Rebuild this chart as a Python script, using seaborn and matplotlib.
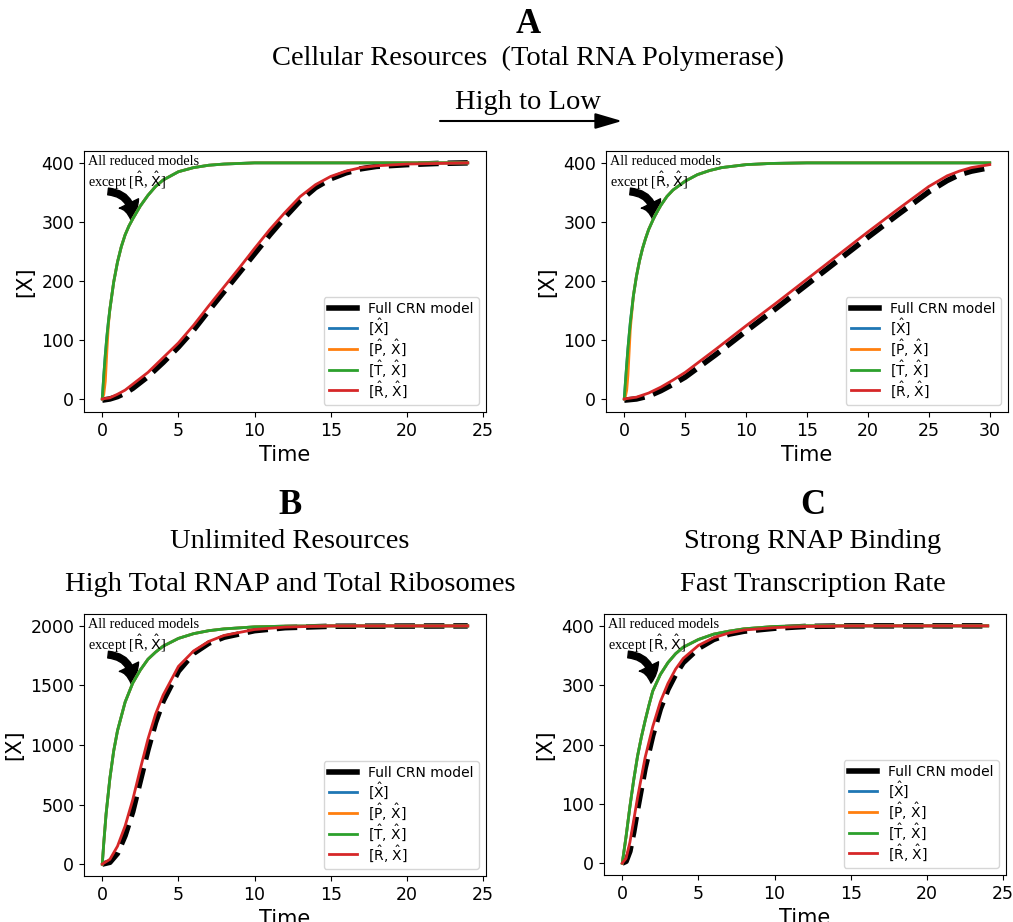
import numpy as np
import pandas as pd
import matplotlib
matplotlib.use("Agg")
import matplotlib.pyplot as plt
from matplotlib.patches import FancyArrowPatch
import seaborn as sns

# ---------------- data ----------------
# Panel A left (high resources)
a1_t_fast = [0, 0.1, 0.2, 0.3, 0.4, 0.5, 0.75, 1, 1.25, 1.5, 1.75, 2, 2.5, 3, 3.5, 4, 5, 6, 7, 8, 10, 12, 16, 20, 24]
a1_x_fast = [0, 40, 75, 105, 130, 152, 198, 232, 258, 278, 293, 305, 327, 345, 360, 371, 385, 392, 396, 398, 400, 400, 400, 400, 400]
a1_x_orange = [0, 8, 30, 80, 125, 152, 198, 232, 258, 278, 293, 305, 327, 345, 360, 371, 385, 392, 396, 398, 400, 400, 400, 400, 400]
a1_t_slow = [0, 0.5, 1, 1.5, 2, 3, 4, 5, 6, 7, 8, 9, 10, 11, 12, 13, 14, 15, 16, 17, 18, 20, 22, 24]
a1_x_red = [0, 2, 8, 15, 25, 45, 70, 95, 125, 158, 190, 222, 255, 287, 316, 343, 363, 377, 386, 392, 395, 398, 399, 400]
a1_x_full = [-2, 0, 4, 10, 18, 38, 62, 88, 117, 150, 182, 214, 246, 278, 308, 336, 358, 373, 383, 390, 394, 397, 399, 400]

# Panel A right (low resources)
a2_t_fast = [0, 0.1, 0.2, 0.3, 0.4, 0.5, 0.75, 1, 1.25, 1.5, 1.75, 2, 2.5, 3, 3.5, 4, 5, 6, 7, 8, 10, 12, 15, 20, 25, 30]
a2_x_fast = [0, 30, 58, 85, 108, 130, 175, 208, 234, 255, 272, 287, 310, 328, 343, 354, 369, 380, 387, 392, 397, 399, 400, 400, 400, 400]
a2_x_orange = [0, 5, 15, 40, 80, 120, 175, 208, 234, 255, 272, 287, 310, 328, 343, 354, 369, 380, 387, 392, 397, 399, 400, 400, 400, 400]
a2_t_slow = [0, 1, 2, 3, 4, 5, 7.5, 10, 12.5, 15, 17.5, 20, 22.5, 25, 26.5, 27.5, 28.5, 30]
a2_x_red = [0, 3, 10, 20, 32, 45, 84, 124, 163, 203, 243, 283, 322, 360, 378, 386, 392, 397]
a2_x_full = [-2, 0, 5, 14, 25, 37, 75, 115, 154, 194, 234, 274, 313, 351, 370, 380, 386, 392]

# Panel B (unlimited resources)
b_t_fast = [0, 0.1, 0.25, 0.5, 0.75, 1, 1.5, 2, 2.5, 3, 3.5, 4, 5, 6, 7, 8, 10, 12, 15, 24]
b_x_fast = [0, 180, 420, 720, 950, 1120, 1360, 1520, 1630, 1720, 1780, 1830, 1895, 1935, 1960, 1975, 1992, 1998, 2000, 2000]
b_t_slow = [0, 0.5, 1, 1.5, 2, 2.5, 3, 3.5, 4, 5, 6, 7, 8, 10, 12, 15, 24]
b_x_red = [0, 40, 150, 320, 540, 800, 1050, 1260, 1420, 1660, 1790, 1870, 1920, 1970, 1990, 2000, 2000]
b_x_full = [0, 15, 90, 240, 440, 700, 960, 1190, 1370, 1620, 1770, 1855, 1905, 1960, 1985, 1997, 2000]

# Panel C (strong RNAP binding)
c_t_fast = [0, 0.25, 0.5, 0.75, 1, 1.25, 1.5, 1.75, 2, 2.5, 3, 3.5, 4, 5, 6, 7, 8, 10, 12, 24]
c_x_fast = [0, 45, 95, 140, 180, 212, 240, 266, 290, 318, 338, 353, 364, 377, 386, 391, 395, 399, 400, 400]
c_t_slow = [0, 0.25, 0.5, 0.75, 1, 1.5, 2, 2.5, 3, 3.5, 4, 5, 6, 7, 8, 10, 12, 15, 24]
c_x_red = [0, 8, 35, 72, 110, 178, 230, 272, 303, 327, 345, 367, 380, 388, 393, 397, 399, 400, 400]
c_x_full = [0, 3, 20, 52, 90, 160, 215, 260, 293, 318, 338, 362, 377, 386, 391, 396, 399, 400, 400]

labels = ["Full CRN model", r"[$\hat{\mathrm{X}}$]", r"[$\hat{\mathrm{P}}$, $\hat{\mathrm{X}}$]",
          r"[$\hat{\mathrm{T}}$, $\hat{\mathrm{X}}$]", r"[$\hat{\mathrm{R}}$, $\hat{\mathrm{X}}$]"]
colors = ["black", "#1f77b4", "#ff7f0e", "#2ca02c", "#d62728"]
yticks_400 = [0, 100, 200, 300, 400]
yticks_2000 = [0, 500, 1000, 1500, 2000]

plt.rcParams["mathtext.fontset"] = "dejavusans"

W, H = 1013, 922
fig = plt.figure(figsize=(W / 100, H / 100), dpi=100)


def px_axes(l, t, r, b):
    return fig.add_axes([l / W, 1 - b / H, (r - l) / W, (b - t) / H])


def draw_panel(ax, t_fast, x_fast, x_orange, t_slow, x_red, x_full, yticks, xticks):
    sns.lineplot(x=t_slow, y=x_full, ax=ax, color=colors[0], lw=4, ls="--", label=labels[0])
    sns.lineplot(x=t_fast, y=x_fast, ax=ax, color=colors[1], lw=2, label=labels[1])
    sns.lineplot(x=t_fast, y=x_orange, ax=ax, color=colors[2], lw=2, label=labels[2])
    sns.lineplot(x=t_fast, y=x_fast, ax=ax, color=colors[3], lw=2, label=labels[3])
    sns.lineplot(x=t_slow, y=x_red, ax=ax, color=colors[4], lw=2, label=labels[4])
    ax.set_yticks(yticks)
    ax.set_xticks(xticks)
    ax.tick_params(labelsize=12.5)
    ax.set_xlabel("Time", fontsize=15)
    ax.set_ylabel("[X]", fontsize=15)
    leg = ax.legend(loc="lower right", fontsize=10, labelspacing=0.02, handlelength=2.0)
    for h in leg.get_lines():
        h.set_linestyle("-")
    ax.text(0.01, 0.985, "All reduced models\n" + r"except [$\hat{\mathrm{R}}$, $\hat{\mathrm{X}}$]",
            transform=ax.transAxes, ha="left", va="top", fontsize=10.3,
            family="Liberation Serif", linespacing=1.1)
    arr = FancyArrowPatch((0.06, 0.845), (0.117, 0.735), transform=ax.transAxes,
                          connectionstyle="arc3,rad=-0.5",
                          arrowstyle="simple,head_width=0.7,head_length=0.55,tail_width=0.22",
                          color="black", mutation_scale=22, shrinkA=0, shrinkB=0)
    ax.add_patch(arr)


ax1 = px_axes(84, 151, 486, 412)
draw_panel(ax1, a1_t_fast, a1_x_fast, a1_x_orange, a1_t_slow, a1_x_red, a1_x_full,
           yticks_400, [0, 5, 10, 15, 20, 25])
ax2 = px_axes(606, 151, 1008, 412)
draw_panel(ax2, a2_t_fast, a2_x_fast, a2_x_orange, a2_t_slow, a2_x_red, a2_x_full,
           yticks_400, [0, 5, 10, 15, 20, 25, 30])
ax3 = px_axes(84, 614, 486, 876)
draw_panel(ax3, b_t_fast, b_x_fast, b_x_fast, b_t_slow, b_x_red, b_x_full,
           yticks_2000, [0, 5, 10, 15, 20, 25])
ax4 = px_axes(604, 614, 1006, 875)
draw_panel(ax4, c_t_fast, c_x_fast, c_x_fast, c_t_slow, c_x_red, c_x_full,
           yticks_400, [0, 5, 10, 15, 20, 25])

serif = "Liberation Serif"


def ftext(x, y, s, size, bold=False):
    fig.text(x / W, 1 - y / H, s, ha="center", va="baseline", fontsize=size,
             family=serif, fontweight="bold" if bold else "normal")


ftext(528, 33, "A", 25, True)
ftext(528, 65, "Cellular Resources  (Total RNA Polymerase)", 20.5)
ftext(528, 109, "High to Low", 20.5)
ftext(290, 514, "B", 25, True)
ftext(290, 548, "Unlimited Resources", 20.5)
ftext(290, 591, "High Total RNAP and Total Ribosomes", 20.5)
ftext(813, 514, "C", 25, True)
ftext(813, 548, "Strong RNAP Binding", 20.5)
ftext(813, 591, "Fast Transcription Rate", 20.5)

big = FancyArrowPatch((440 / W, 1 - 121 / H), (622 / W, 1 - 121 / H), transform=fig.transFigure,
                      arrowstyle="-|>,head_length=0.75,head_width=0.22", color="black",
                      lw=1.5, mutation_scale=22, shrinkA=0, shrinkB=0)
fig.patches.append(big)

fig.savefig("out.png", dpi=100)
